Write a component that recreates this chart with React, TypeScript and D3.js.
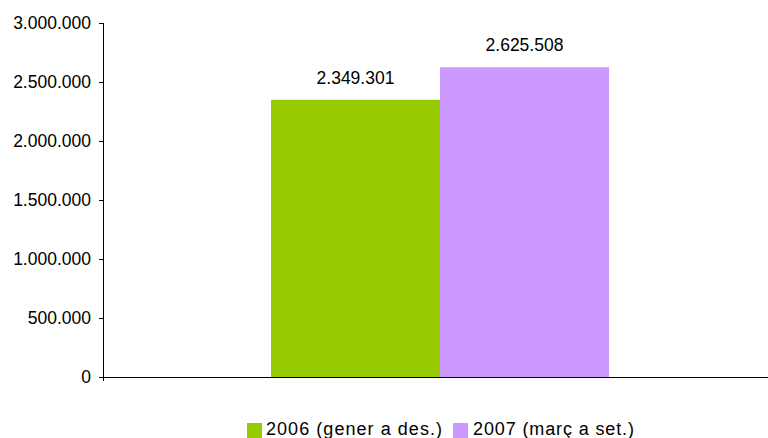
import React from "react";
import * as d3 from "d3";

const categories = ["total"];
const seriesNames = ["2006 (gener a des.)", "2007 (març a set.)"];
const seriesValues = [2349301, 2625508];
const seriesColors = ["#99CC00", "#CC99FF"];
const yTicks = [0, 500000, 1000000, 1500000, 2000000, 2500000, 3000000];

const W = 768;
const H = 438;
const left = 103;
const right = 777;
const top = 23;
const bottom = 377;
const FONT = "'Liberation Sans', Arial, sans-serif";

const fmt = (v: number) =>
  v.toString().replace(/\B(?=(\d{3})+(?!\d))/g, ".");

const legendX = [247, 453];
const legendLen = [176, 161];

export default function App() {
  const y = d3.scaleLinear().domain([0, 3000000]).range([bottom, top]);
  const x0 = d3.scaleBand().domain(categories).range([left, right]).paddingInner(0).paddingOuter(0.497);
  const x1 = d3.scaleBand().domain(seriesNames).range([0, x0.bandwidth()]).padding(0);

  return (
    <svg width={W} height={H} style={{ position: "absolute", left: 0, top: 0, background: "#fff" }} fontFamily={FONT}>
      <rect x={0} y={0} width={W} height={H} fill="#fff" />
      {categories.map((c) =>
        seriesNames.map((s, i) => {
          const bx = (x0(c) ?? 0) + (x1(s) ?? 0);
          const v = seriesValues[i];
          return (
            <g key={s}>
              <rect x={bx} y={y(v)} width={x1.bandwidth()} height={bottom - y(v)} fill={seriesColors[i]} />
              <text x={bx + x1.bandwidth() / 2} y={y(v) - 16} textAnchor="middle" fontSize={17.5} fill="#000">
                {fmt(v)}
              </text>
            </g>
          );
        })
      )}
      {/* y axis */}
      <line x1={left + 0.5} x2={left + 0.5} y1={top} y2={bottom + 4} stroke="#000" strokeWidth={1} />
      {yTicks.map((t) => (
        <g key={t}>
          <line x1={left - 4} x2={left} y1={Math.round(y(t)) + 0.5} y2={Math.round(y(t)) + 0.5} stroke="#000" />
          <text x={91} y={y(t) + 6} textAnchor="end" fontSize={17.5} fill="#000">
            {fmt(t)}
          </text>
        </g>
      ))}
      {/* x axis */}
      <line x1={left} x2={W} y1={bottom + 0.5} y2={bottom + 0.5} stroke="#000" strokeWidth={1} />
      {/* legend */}
      {seriesNames.map((s, i) => {
        const lx = legendX[i];
        return (
          <g key={s}>
            <rect x={lx} y={423} width={15} height={15} fill={seriesColors[i]} />
            <text
              x={lx + (i === 0 ? 19 : 20)}
              y={435}
              fontSize={18}
              fill="#000"
              textLength={legendLen[i]}
              lengthAdjust="spacing"
            >
              {s}
            </text>
          </g>
        );
      })}
    </svg>
  );
}
